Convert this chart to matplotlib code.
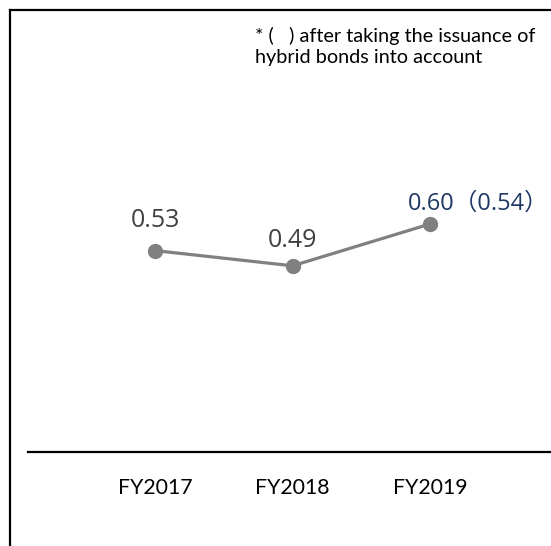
"""
Line chart of a ratio by fiscal year, with a footnote on hybrid bonds.
"""

import matplotlib.pyplot as plt
from matplotlib.lines import Line2D

years = ['FY2017', 'FY2018', 'FY2019']
values = [0.53, 0.49, 0.60]
labels = ['0.53', '0.49', '0.60（0.54）']
label_colors = ['#404040', '#404040', '#1F3864']
footnote = '* (   ) after taking the issuance of\nhybrid bonds into account'

W, H = 551, 546
fig = plt.figure(figsize=(W / 100, H / 100), dpi=100)

# axes: from x=28 to right edge, y from axis line (452) up to top (10)
ax = fig.add_axes([28 / W, 1 - 452 / H, 1 - 28 / W, (452 - 10) / H])
x = list(range(len(years)))
ax.plot(x, values, color='#808080', lw=2.3, marker='o', ms=10,
        solid_capstyle='round')
ax.set_xlim(-127 / 137.5, 2 + 121 / 137.5)
ax.set_ylim(0, 442 / 380)

lab_font = ['Open Sans', 'Noto Sans CJK JP', 'DejaVu Sans']
# label offsets (points) and sizes
offsets = [(0, 13), (0, 9), (-16, 6)]
sizes = [18, 18, 17]
for xi, v, lab, c, off, fs in zip(x, values, labels, label_colors, offsets, sizes):
    ha = 'left' if xi == 2 else 'center'
    ax.annotate(lab, (xi, v), xytext=off, textcoords='offset points',
                ha=ha, va='bottom', fontsize=fs, color=c, family=lab_font)

for s in ['top', 'right', 'left']:
    ax.spines[s].set_visible(False)
ax.spines['bottom'].set_color('black')
ax.spines['bottom'].set_linewidth(1.6)
ax.set_yticks([])
ax.set_xticks(x)
ax.set_xticklabels(years, fontsize=15.3, family='Lato', color='black')
ax.tick_params(axis='x', length=0, pad=19)

fig.text(255 / W, 1 - 27 / H, footnote, ha='left', va='top', fontsize=14.3,
         family='Lato', color='black', linespacing=1.3)

# frame lines at top and left of the figure
fig.add_artist(Line2D([10 / W, 1], [1 - 10 / H, 1 - 10 / H], color='black',
                      lw=1.6, transform=fig.transFigure))
fig.add_artist(Line2D([10 / W, 10 / W], [1 - 10 / H, 0], color='black',
                      lw=1.6, transform=fig.transFigure))

fig.savefig('out.png', dpi=100)
